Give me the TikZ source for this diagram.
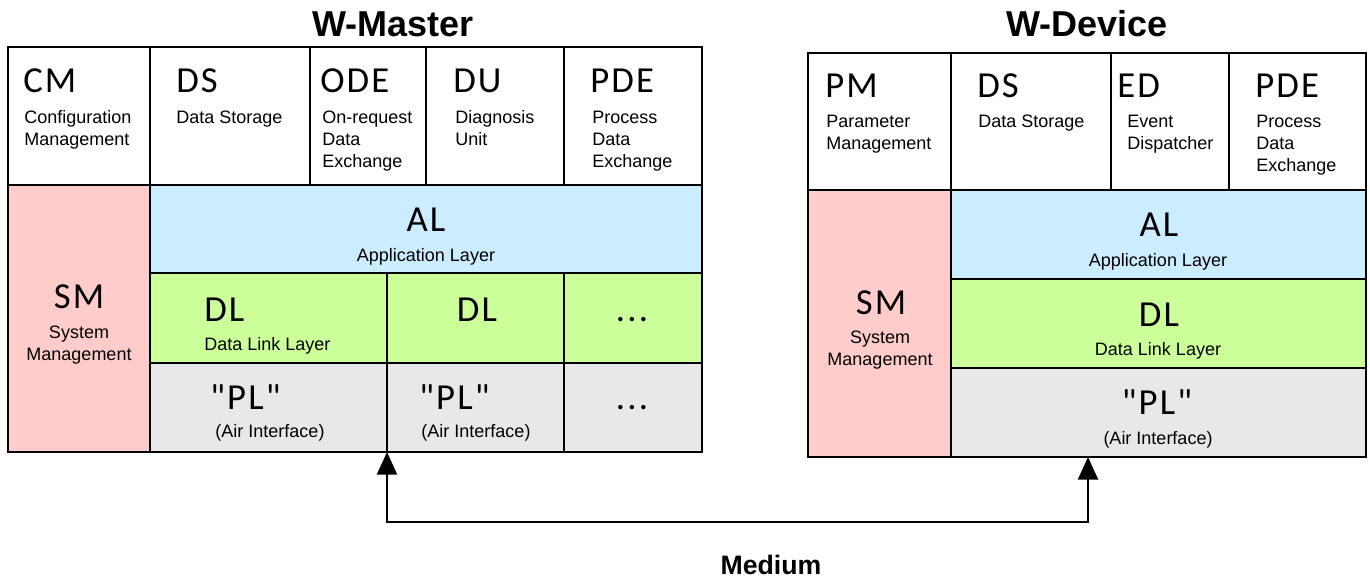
\documentclass[tikz,border=0pt]{standalone}
\usepackage{fontspec}
\setmainfont{Liberation Sans}
\newfontfamily\abbrfont[LetterSpace=6]{Carlito}
\usetikzlibrary{fit,arrows.meta}

% multi-line labels whose baseline is that of the first line
\newcommand\lstack[1]{\begin{tabular}[t]{@{}l@{}}#1\end{tabular}}
\newcommand\cstack[1]{\begin{tabular}[t]{@{}c@{}}#1\end{tabular}}

\definecolor{smpink}{HTML}{FFCCCC}
\definecolor{alblue}{HTML}{CCECFF}
\definecolor{dlgreen}{HTML}{CCFF99}
\definecolor{plgray}{HTML}{E8E8E8}

\begin{document}
\begin{tikzpicture}[x=0.75pt,y=-0.75pt,
  cell/.style={draw=black, line width=1.4pt, inner sep=0pt, outer sep=0pt, rectangle, fit={#1}},
  abbr/.style={font=\abbrfont\fontsize{27.5}{30}\selectfont, inner sep=0pt},
  desc/.style={font=\fontsize{13.5}{16.5}\selectfont, inner sep=0pt},
  title/.style={font=\bfseries\fontsize{27}{30}\selectfont, inner sep=0pt},
  medlabel/.style={font=\bfseries\fontsize{20}{24}\selectfont, inner sep=0pt},
  link/.style={line width=1.8pt, {Triangle[length=17pt,width=15pt]}-{Triangle[length=17pt,width=15pt]}}
]
\useasboundingbox (0,0) rectangle (1370,580);

% ---------------- W-Master ----------------
\node[title, anchor=base] (mtitle) at (393,37) {W-Master};

\node[cell={(8,47) (150,185)}]   (mCM)  {};
\node[cell={(150,47) (310,185)}] (mDS)  {};
\node[cell={(310,47) (426,185)}] (mODE) {};
\node[cell={(426,47) (564,185)}] (mDU)  {};
\node[cell={(564,47) (702,185)}] (mPDE) {};
\node[cell={(8,185) (150,452)}, fill=smpink]    (mSM)  {};
\node[cell={(150,185) (702,273)}, fill=alblue]  (mAL)  {};
\node[cell={(150,273) (387,363)}, fill=dlgreen] (mDL1) {};
\node[cell={(387,273) (564,363)}, fill=dlgreen] (mDL2) {};
\node[cell={(564,273) (702,363)}, fill=dlgreen] (mDL3) {};
\node[cell={(150,363) (387,452)}, fill=plgray]  (mPL1) {};
\node[cell={(387,363) (564,452)}, fill=plgray]  (mPL2) {};
\node[cell={(564,363) (702,452)}, fill=plgray]  (mPL3) {};

\node[abbr, anchor=base west] (mCMa)  at (23,93)  {CM};
\node[desc, anchor=base west] (mCMd)  at (24,124) {\lstack{Configuration\\Management}};
\node[abbr, anchor=base west] (mDSa)  at (176,93) {DS};
\node[desc, anchor=base west] (mDSd)  at (176,124) {Data Storage};
\node[abbr, anchor=base west] (mODEa) at (320,93) {ODE};
\node[desc, anchor=base west] (mODEd) at (322,124) {\lstack{On-request\\Data\\Exchange}};
\node[abbr, anchor=base west] (mDUa)  at (453,93) {DU};
\node[desc, anchor=base west] (mDUd)  at (455,124) {\lstack{Diagnosis\\Unit}};
\node[abbr, anchor=base west] (mPDEa) at (590,93) {PDE};
\node[desc, anchor=base west] (mPDEd) at (592,124) {\lstack{Process\\Data\\Exchange}};

\node[abbr, anchor=base] (mSMa) at (79,309) {SM};
\node[desc, anchor=base] (mSMd) at (79,339) {\cstack{System\\Management}};

\node[abbr, anchor=base] (mALa) at (426,232) {AL};
\node[desc, anchor=base] (mALd) at (426,262) {Application Layer};

\node[abbr, anchor=base west] (mDL1a) at (204,322) {DL};
\node[desc, anchor=base west] (mDL1d) at (204,351) {Data Link Layer};
\node[abbr, anchor=base] (mDL2a) at (477,322) {DL};
\node[abbr, anchor=base] (mDL3a) at (632,322) {...};

\node[abbr, anchor=base west] (mPL1a) at (210,410) {"PL"};
\node[desc, anchor=base] (mPL1d) at (270,438) {(Air Interface)};
\node[abbr, anchor=base west] (mPL2a) at (419,410) {"PL"};
\node[desc, anchor=base] (mPL2d) at (476,438) {(Air Interface)};
\node[abbr, anchor=base] (mPL3a) at (632,410) {...};

% ---------------- W-Device ----------------
\node[title, anchor=base] (dtitle) at (1087,37) {W-Device};

\node[cell={(808,53) (951,190)}]   (dPM)  {};
\node[cell={(951,53) (1111,190)}]  (dDS)  {};
\node[cell={(1111,53) (1229,190)}] (dED)  {};
\node[cell={(1229,53) (1366,190)}] (dPDE) {};
\node[cell={(808,190) (951,457)}, fill=smpink]   (dSM) {};
\node[cell={(951,190) (1366,279)}, fill=alblue]  (dAL) {};
\node[cell={(951,279) (1366,368)}, fill=dlgreen] (dDL) {};
\node[cell={(951,368) (1366,457)}, fill=plgray]  (dPL) {};

\node[abbr, anchor=base west] (dPMa)  at (825,98)   {PM};
\node[desc, anchor=base west] (dPMd)  at (826,128)  {\lstack{Parameter\\Management}};
\node[abbr, anchor=base west] (dDSa)  at (977,98)   {DS};
\node[desc, anchor=base west] (dDSd)  at (978,128)  {Data Storage};
\node[abbr, anchor=base west] (dEDa)  at (1117,98)  {ED};
\node[desc, anchor=base west] (dEDd)  at (1127,128) {\lstack{Event\\Dispatcher}};
\node[abbr, anchor=base west] (dPDEa) at (1255,98)  {PDE};
\node[desc, anchor=base west] (dPDEd) at (1256,128) {\lstack{Process\\Data\\Exchange}};

\node[abbr, anchor=base] (dSMa) at (881,315) {SM};
\node[desc, anchor=base] (dSMd) at (880,344) {\cstack{System\\Management}};

\node[abbr, anchor=base] (dALa) at (1159,237) {AL};
\node[desc, anchor=base] (dALd) at (1158,267) {Application Layer};
\node[abbr, anchor=base] (dDLa) at (1159,327) {DL};
\node[desc, anchor=base] (dDLd) at (1158,356) {Data Link Layer};
\node[abbr, anchor=base] (dPLa) at (1157,415) {"PL"};
\node[desc, anchor=base] (dPLd) at (1158,445) {(Air Interface)};

% ---------------- Medium ----------------
\coordinate (mtap) at (mPL1.south east);
\coordinate (dtap) at (dPL.south -| 1088,0);
\coordinate (bus) at (0,522);
\draw[link] (mtap) -- (mtap |- bus) -| (dtap);
\node[medlabel, anchor=base] (medium) at (771,574) {Medium};
\end{tikzpicture}
\end{document}
